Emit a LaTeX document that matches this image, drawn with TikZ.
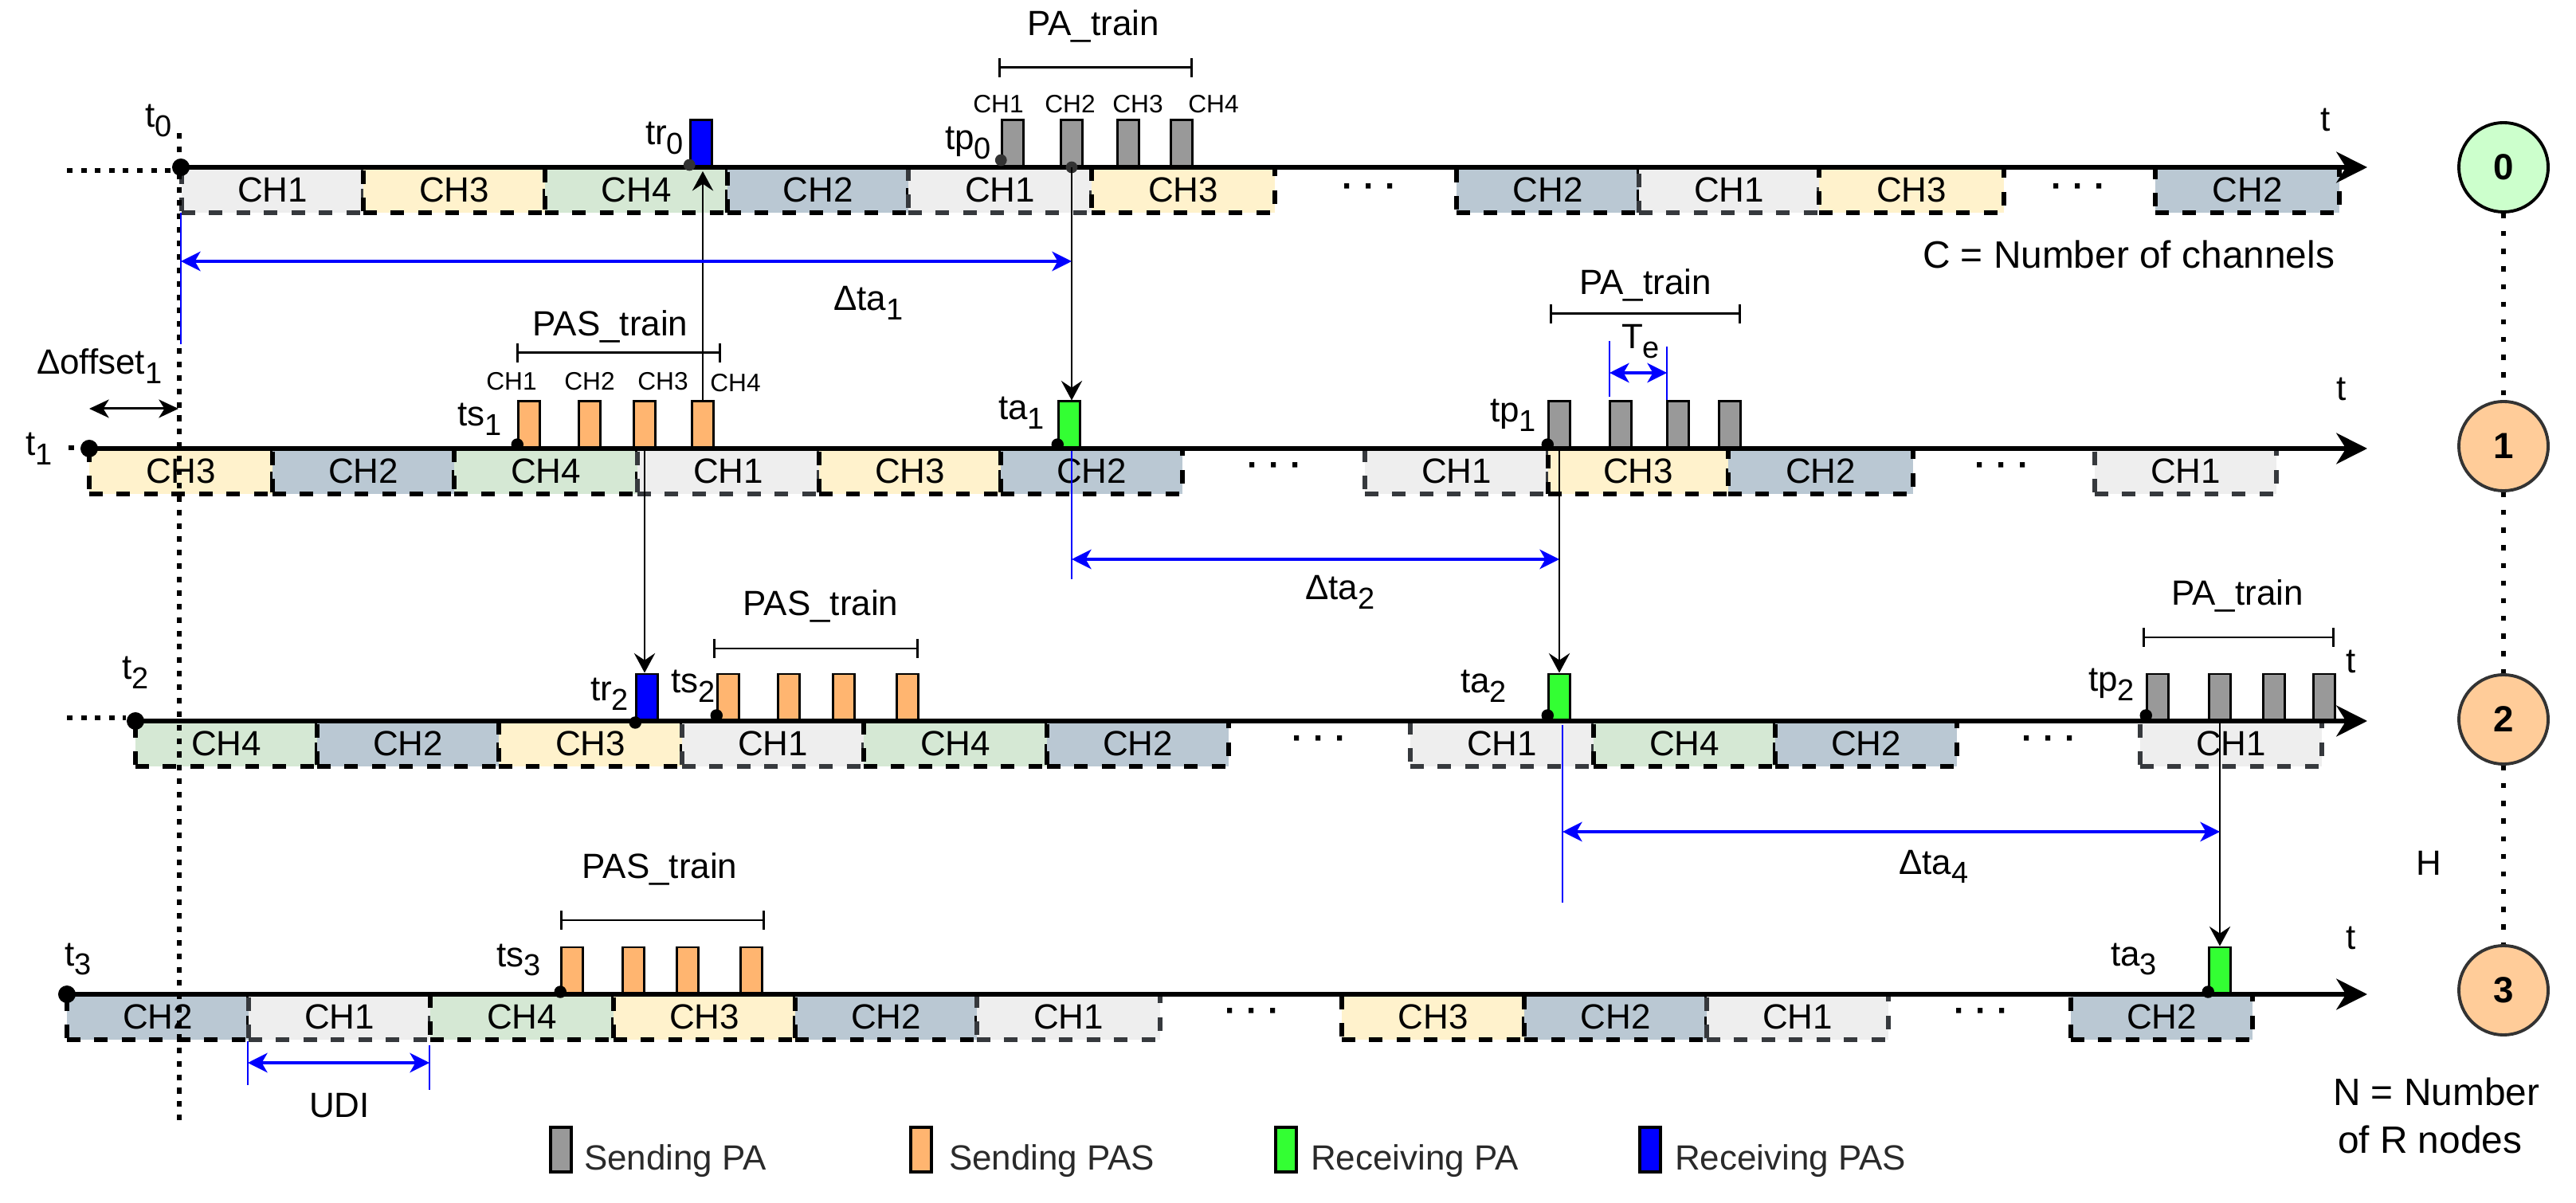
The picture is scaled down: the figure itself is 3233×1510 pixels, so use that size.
\documentclass[tikz,border=0pt]{standalone}
\usepackage{fontspec}
\setmainfont{Liberation Sans}
\usetikzlibrary{arrows.meta}
\definecolor{ch1}{HTML}{EEEEEE}
\definecolor{chd1}{HTML}{36393D}
\definecolor{ch2}{HTML}{BAC8D3}
\definecolor{chd2}{HTML}{000000}
\definecolor{ch3}{HTML}{FFF2CC}
\definecolor{chd3}{HTML}{000000}
\definecolor{ch4}{HTML}{D5E8D4}
\definecolor{chd4}{HTML}{000000}
\definecolor{pg}{HTML}{999999}
\definecolor{po}{HTML}{FFB570}
\definecolor{pgr}{HTML}{33FF33}
\definecolor{pb}{HTML}{0000FF}
\definecolor{nz}{HTML}{CCFFCC}
\definecolor{no}{HTML}{FFCC99}
\definecolor{dk}{HTML}{333333}
\definecolor{legt}{HTML}{2A2A2A}
\newcommand\lsub[1]{\raisebox{-3.3pt}{\fontsize{10.8}{12}\selectfont #1}}
\tikzset{
 fnt/.style={font=\fontsize{12.5}{14}\selectfont},
 lbl/.style={inner sep=0pt, outer sep=0pt, anchor=base west, fnt},
 lblc/.style={inner sep=0pt, outer sep=0pt, anchor=base, fnt},
 bigl/.style={inner sep=0pt, outer sep=0pt, anchor=base west, font=\fontsize{13.6}{15}\selectfont},
 sml/.style={inner sep=0pt, outer sep=0pt, anchor=base, font=\fontsize{9}{10}\selectfont},
 chbox/.style={draw, line width=1.5pt, dash pattern=on 4.8pt off 5pt, minimum height=0.57cm, inner sep=0pt, fnt},
 dotsnode/.style={inner sep=0pt, font=\fontsize{12.5}{14}\selectfont\bfseries},
 pulse/.style={draw, line width=0.7pt, minimum width=0.27cm, minimum height=0.58cm, inner sep=0pt, anchor=south},
 timeaxis/.style={line width=1.8pt, -{Stealth[length=11pt,width=11pt,inset=3.4pt]}},
 tdot/.style={circle, fill=black, inner sep=0pt, minimum size=0.22cm},
 conn/.style={line width=0.6pt, -{Stealth[length=7pt,width=7.5pt,inset=2.5pt]}},
 guide/.style={draw=pb, line width=0.8pt},
 barrow/.style={draw=pb, fill=pb, line width=0.9pt, {Stealth[length=7pt,width=7pt,inset=2pt]}-{Stealth[length=7pt,width=7pt,inset=2pt]}},
 darrow/.style={line width=0.85pt, {Stealth[length=7pt,width=6.5pt,inset=2pt]}-{Stealth[length=7pt,width=6.5pt,inset=2pt]}},
 bracketl/.style={line width=0.85pt},
 hdot/.style={line width=1.5pt, dash pattern=on 2pt off 3pt},
 vdotl/.style={line width=1.6pt, dash pattern=on 2pt off 2.8pt},
 vdotr/.style={line width=1.6pt, dash pattern=on 1.8pt off 4.5pt},
 rnode/.style={circle, draw, line width=1.1pt, minimum size=1.12cm, inner sep=0pt, font=\fontsize{13}{14}\selectfont\bfseries},
 legbox/.style={draw, line width=1pt, minimum width=0.26cm, minimum height=0.56cm, inner sep=0pt},
 legtxt/.style={inner sep=0pt, outer sep=0pt, anchor=base west, fnt, text=legt},
}
\begin{document}
\begin{tikzpicture}[x=0.01cm,y=-0.01cm]
\useasboundingbox (0,0) rectangle (3233,1510);

% ---------- channel boxes ----------
\foreach \a/\b/\t in {228/456/1,456/684/3,684/913/4,913/1140/2,1140/1370/1,1370/1600/3,1828/2057/2,2057/2283/1,2283/2515/3,2705/2936/2}
  {\node[chbox, fill=ch\t, draw=chd\t, minimum width={(\b-\a)*0.01cm}] (ba\a) at ({(\a+\b)/2},238.5) {CH\t};}
\foreach \a/\b/\t in {112/342/3,342/570/2,570/800/4,800/1028/1,1028/1256/3,1256/1484/2,1713/1943/1,1943/2169/3,2169/2401/2,2629/2857/1}
  {\node[chbox, fill=ch\t, draw=chd\t, minimum width={(\b-\a)*0.01cm}] (bb\a) at ({(\a+\b)/2},591.5) {CH\t};}
\foreach \a/\b/\t in {170/398/4,398/626/2,626/856/3,856/1084/1,1084/1314/4,1314/1542/2,1770/2000/1,2000/2228/4,2228/2456/2,2686/2914/1}
  {\node[chbox, fill=ch\t, draw=chd\t, minimum width={(\b-\a)*0.01cm}] (bc\a) at ({(\a+\b)/2},933.5) {CH\t};}
\foreach \a/\b/\t in {84/312/2,312/540/1,540/770/4,770/998/3,998/1226/2,1226/1456/1,1684/1913/3,1913/2142/2,2142/2370/1,2599/2827/2}
  {\node[chbox, fill=ch\t, draw=chd\t, minimum width={(\b-\a)*0.01cm}] (bd\a) at ({(\a+\b)/2},1276.5) {CH\t};}

\node[dotsnode] (dA1) at (1719,240) {· · ·};
\node[dotsnode] (dA2) at (2609,240) {· · ·};
\node[dotsnode] (dB1) at (1600,590) {· · ·};
\node[dotsnode] (dB2) at (2513,590) {· · ·};
\node[dotsnode] (dC1) at (1656,933) {· · ·};
\node[dotsnode] (dC2) at (2572,933) {· · ·};
\node[dotsnode] (dD1) at (1572,1275) {· · ·};
\node[dotsnode] (dD2) at (2487,1275) {· · ·};

% ---------- pulses ----------
\node[pulse, fill=pb] (tr0) at (880,210) {};
\node[pulse, fill=pg] (p0a) at (1271,210) {};
\node[pulse, fill=pg] (p0b) at (1345,210) {};
\node[pulse, fill=pg] (p0c) at (1416,210) {};
\node[pulse, fill=pg] (p0d) at (1483,210) {};

\node[pulse, fill=po] (s1a) at (664,563) {};
\node[pulse, fill=po] (s1b) at (740,563) {};
\node[pulse, fill=po] (s1c) at (809,563) {};
\node[pulse, fill=po] (s1d) at (882,563) {};
\node[pulse, fill=pgr] (ta1) at (1342,563) {};
\node[pulse, fill=pg] (p1a) at (1957,563) {};
\node[pulse, fill=pg] (p1b) at (2034,563) {};
\node[pulse, fill=pg] (p1c) at (2106,563) {};
\node[pulse, fill=pg] (p1d) at (2171,563) {};

\node[pulse, fill=pb] (tr2) at (812,905) {};
\node[pulse, fill=po] (s2a) at (914,905) {};
\node[pulse, fill=po] (s2b) at (990,905) {};
\node[pulse, fill=po] (s2c) at (1059,905) {};
\node[pulse, fill=po] (s2d) at (1139,905) {};
\node[pulse, fill=pgr] (ta2) at (1957,905) {};
\node[pulse, fill=pg] (p2a) at (2708,905) {};
\node[pulse, fill=pg] (p2b) at (2786,905) {};
\node[pulse, fill=pg] (p2c) at (2854,905) {};
\node[pulse, fill=pg] (p2d) at (2917,905) {};

\node[pulse, fill=po] (s3a) at (718,1248) {};
\node[pulse, fill=po] (s3b) at (795,1248) {};
\node[pulse, fill=po] (s3c) at (863,1248) {};
\node[pulse, fill=po] (s3d) at (943,1248) {};
\node[pulse, fill=pgr] (ta3) at (2786,1248) {};

% ---------- time axes ----------
\node[tdot] (t0d) at (227,210) {};
\node[tdot] (t1d) at (112,563) {};
\node[tdot] (t2d) at (170,905) {};
\node[tdot] (t3d) at (84,1248) {};
\coordinate (e0) at (2971,210);
\coordinate (e1) at (2971,563);
\coordinate (e2) at (2971,905);
\coordinate (e3) at (2971,1248);
\draw[timeaxis] (t0d.center) -- (e0);
\draw[timeaxis] (t1d.center) -- (e1);
\draw[timeaxis] (t2d.center) -- (e2);
\draw[timeaxis] (t3d.center) -- (e3);

% small event dots
\fill[dk] (tr0.south west) ++(0,-3) circle[radius=2.1pt];
\fill[dk] (p0a.south west) ++(0,-9) circle[radius=2.1pt];
\fill[dk] (p0b.south) circle[radius=2.1pt];
\fill (s1a.south west) ++(0,-5) circle[radius=2.2pt];
\fill (ta1.south west) ++(0,-5) circle[radius=2.2pt];
\fill (p1a.south west) ++(0,-5) circle[radius=2.2pt];
\fill (tr2.south west) ++(0,2) circle[radius=2.2pt];
\fill (s2a.south west) ++(0,-7) circle[radius=2.2pt];
\fill (ta2.south west) ++(0,-7) circle[radius=2.2pt];
\fill (p2a.south west) ++(0,-7) circle[radius=2.2pt];
\fill (s3a.south west) ++(0,-3) circle[radius=2.2pt];
\fill (ta3.south west) ++(0,-3) circle[radius=2.2pt];

% dotted lines on the left
\coordinate (h0) at (84,214);
\coordinate (h1) at (86,562);
\coordinate (h2) at (84,901);
\draw[hdot] (h0) -- (h0 -| t0d.west);
\draw[hdot] (h1) -- (h1 -| t1d.west);
\draw[hdot] (h2) -- (h2 -| t2d.west);
\coordinate (v0) at (225,167);
\coordinate (v1) at (225,1412);
\draw[vdotl] (v0) -- (v1);

% ---------- connectors ----------
\draw[conn] (p0b.south) -- (p0b.south |- ta1.north);
\draw[conn, shorten >=1.4pt] (s1d.north) -- (s1d.north |- tr0.south);
\draw[conn] (s1c.south) -- (s1c.south |- tr2.north);
\draw[conn] (p1a.south) -- (p1a.south |- ta2.north);
\draw[conn] (p2b.south) -- (p2b.south |- ta3.north);

% ---------- blue measures ----------
\coordinate (g0a) at (227,267); \coordinate (g0b) at (227,432);
\draw[guide] (g0a) -- (g0b);
\coordinate (d1a) at (227,328);
\draw[barrow] (d1a) -- (d1a -| p0b.south);
\coordinate (g1a) at (1345,566); \coordinate (g1b) at (1345,727);
\draw[guide] (g1a) -- (g1b);
\coordinate (d2a) at (1345,702);
\draw[barrow] (d2a) -- (d2a -| p1a.south);
\coordinate (g2a) at (1961,910); \coordinate (g2b) at (1961,1133);
\draw[guide] (g2a) -- (g2b);
\coordinate (d4a) at (1961,1044);
\draw[barrow] (d4a) -- (d4a -| p2b.south);
\coordinate (te1a) at (2020,428); \coordinate (te1b) at (2020,498);
\coordinate (te2a) at (2092,435); \coordinate (te2b) at (2092,502);
\draw[guide] (te1a) -- (te1b);
\draw[guide] (te2a) -- (te2b);
\coordinate (tea) at (2020,468); \coordinate (teb) at (2092,468);
\draw[barrow] (tea) -- (teb);
\coordinate (u1a) at (311,1307); \coordinate (u1b) at (311,1362);
\coordinate (u2a) at (539,1312); \coordinate (u2b) at (539,1368);
\draw[guide] (u1a) -- (u1b);
\draw[guide] (u2a) -- (u2b);
\coordinate (ua) at (311,1334); \coordinate (ub) at (539,1334);
\draw[barrow] (ua) -- (ub);
\coordinate (oa) at (112,513); \coordinate (ob) at (224,513);
\draw[darrow] (oa) -- (ob);

% ---------- train brackets ----------
\draw[bracketl] (1254,73) -- (1254,97) (1254,85) -- (1495,85) (1495,73) -- (1495,97);
\draw[bracketl] (649,431) -- (649,455) (649,443) -- (903,443) (903,431) -- (903,455);
\draw[bracketl] (1946,382) -- (1946,406) (1946,394) -- (2183,394) (2183,382) -- (2183,406);
\draw[bracketl] (896,802) -- (896,826) (896,814) -- (1151,814) (1151,802) -- (1151,826);
\draw[bracketl] (2690,788) -- (2690,812) (2690,800) -- (2928,800) (2928,788) -- (2928,812);
\draw[bracketl] (704,1143) -- (704,1167) (704,1155) -- (958,1155) (958,1143) -- (958,1167);

% ---------- labels ----------
\node[lbl] (lt0) at (182,160) {t\lsub{0}};
\node[lbl] (ltr0) at (810,182) {tr\lsub{0}};
\node[lbl] (ltp0) at (1186,188) {tp\lsub{0}};
\node[lbl] (lT0) at (2912,165) {t};
\node[lblc] (lpa0) at (1372,45) {PA\_train};
\node[sml] (c0a) at (1253,142) {CH1};
\node[sml] (c0b) at (1343,142) {CH2};
\node[sml] (c0c) at (1428,142) {CH3};
\node[sml] (c0d) at (1523,142) {CH4};
\node[lbl] (lda1) at (1046,390) {Δta\lsub{1}};
\node[bigl] (lC) at (2413,337) {C = Number of channels};

\node[lbl] (lt1) at (32,572) {t\lsub{1}};
\node[lbl] (ldo) at (46,470) {Δoffset\lsub{1}};
\node[lblc] (lpas1) at (766,422) {PAS\_train};
\node[sml] (c1a) at (642,490) {CH1};
\node[sml] (c1b) at (740,490) {CH2};
\node[sml] (c1c) at (832,490) {CH3};
\node[sml] (c1d) at (923,492) {CH4};
\node[lbl] (lts1) at (574,535) {ts\lsub{1}};
\node[lbl] (lta1) at (1253,527) {ta\lsub{1}};
\node[lbl] (ltp1) at (1870,530) {tp\lsub{1}};
\node[lblc] (lpa1) at (2065,370) {PA\_train};
\node[lbl] (lTe) at (2035,438) {T\lsub{e}};
\node[lbl] (lT1) at (2932,503) {t};
\node[lbl] (lda2) at (1638,753) {Δta\lsub{2}};

\node[lblc] (lpas2) at (1030,773) {PAS\_train};
\node[lblc] (lpa2) at (2808,760) {PA\_train};
\node[lbl] (lt2) at (153,853) {t\lsub{2}};
\node[lbl] (ltr2) at (741,880) {tr\lsub{2}};
\node[lbl] (lts2) at (842,870) {ts\lsub{2}};
\node[lbl] (lta2) at (1833,870) {ta\lsub{2}};
\node[lbl] (ltp2) at (2621,868) {tp\lsub{2}};
\node[lbl] (lT2) at (2944,845) {t};
\node[lbl] (lda4) at (2383,1097) {Δta\lsub{4}};
\node[lblc] (lH) at (3048,1098) {H};

\node[lblc] (lpas3) at (828,1103) {PAS\_train};
\node[lbl] (lt3) at (81,1212) {t\lsub{3}};
\node[lbl] (lts3) at (623,1213) {ts\lsub{3}};
\node[lbl] (lta3) at (2649,1212) {ta\lsub{3}};
\node[lbl] (lT3) at (2944,1192) {t};
\node[lblc] (lUDI) at (426,1402) {UDI};
\node[bigl] (lN1) at (2928,1387) {N = Number};
\node[bigl] (lN2) at (2934,1447) {of R nodes};

% ---------- R nodes ----------
\node[rnode, fill=nz, draw=black] (n0) at (3142,210) {0};
\node[rnode, fill=no, draw=dk] (n1) at (3142,560) {1};
\node[rnode, fill=no, draw=dk] (n2) at (3142,903) {2};
\node[rnode, fill=no, draw=dk] (n3) at (3142,1243) {3};
\draw[vdotr] (n0.south) -- (n1.north);
\draw[vdotr] (n1.south) -- (n2.north);
\draw[vdotr] (n2.south) -- (n3.north);

% ---------- legend ----------
\node[legbox, fill=pg] (lg1) at (704,1443) {};
\node[legtxt] (lgt1) at (733,1468) {Sending PA};
\node[legbox, fill=po] (lg2) at (1156,1443) {};
\node[legtxt] (lgt2) at (1191,1468) {Sending PAS};
\node[legbox, fill=pgr] (lg3) at (1614,1443) {};
\node[legtxt] (lgt3) at (1645,1468) {Receiving PA};
\node[legbox, fill=pb] (lg4) at (2071,1443) {};
\node[legtxt] (lgt4) at (2102,1468) {Receiving PAS};
\end{tikzpicture}
\end{document}
